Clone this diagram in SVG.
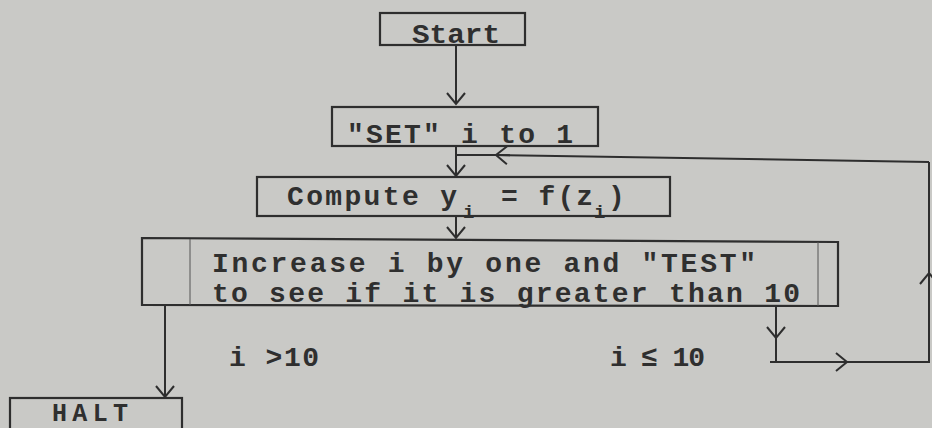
<svg xmlns="http://www.w3.org/2000/svg" width="932" height="428" viewBox="0 0 932 428">
<style>
.box{fill:none;stroke:#2e2e2e;stroke-width:2.2}
.thin{fill:none;stroke:#555;stroke-width:1}
.ln{fill:none;stroke:#2e2e2e;stroke-width:2}
.t{font-family:"Liberation Mono","DejaVu Sans Mono",monospace;font-weight:bold;font-size:28px;fill:#2f2f2f}
.s{font-family:"Liberation Mono","DejaVu Sans Mono",monospace;font-weight:bold;font-size:19px;fill:#2f2f2f}
</style>
<defs>
<marker id="chev" markerUnits="userSpaceOnUse" markerWidth="30" markerHeight="30" refX="15" refY="15" orient="auto" viewBox="0 0 30 30">
<path d="M4,6 L15,15 L4,24" fill="none" stroke="#2e2e2e" stroke-width="2"/>
</marker>
</defs>
<rect x="0" y="0" width="932" height="428" fill="#c9c9c6"/>
<g id="connectors">
<path class="ln" d="M456,45 L456,104" marker-end="url(#chev)"/>
<path class="ln" d="M456,147 L456,176" marker-end="url(#chev)"/>
<path class="ln" d="M929,162 L497,155"/>
<path class="ln" d="M510,155.2 L496,155" marker-end="url(#chev)"/>
<path class="ln" d="M496,155 L456,155"/>
<path class="ln" d="M456,217 L456,238" marker-end="url(#chev)"/>
<path class="ln" d="M165,306 L165,397" marker-end="url(#chev)"/>
<path class="ln" d="M776,306 L776,338" marker-end="url(#chev)"/>
<path class="ln" d="M776,338 L776,362"/>
<path class="ln" d="M770,362 L847,362" marker-end="url(#chev)"/>
<path class="ln" d="M847,362 L929,362 L929,274"/>
<path class="ln" d="M929,290 L929,273" marker-end="url(#chev)"/>
<path class="ln" d="M929,273 L929,162"/>
</g>
<g id="start">
<rect class="box" x="380" y="13" width="145" height="32"/>
<text class="t" x="412" y="43" textLength="88" lengthAdjust="spacingAndGlyphs">Start</text>
</g>
<g id="set">
<rect class="box" x="332" y="107" width="266" height="39"/>
<text class="t" x="347" y="143" textLength="226" lengthAdjust="spacing">"SET" i to 1</text>
</g>
<g id="compute">
<rect class="box" x="257" y="177" width="413" height="39"/>
<text class="t" x="287" y="205" textLength="170" lengthAdjust="spacing">Compute y</text>
<text class="s" x="463" y="218">i</text>
<text class="t" x="501" y="205" textLength="92" lengthAdjust="spacing">= f(z</text>
<text class="s" x="594" y="218">i</text>
<text class="t" x="608" y="205">)</text>
</g>
<g id="test">
<path class="box" d="M142,238 L838,242 L838,306 L142,305 Z"/>
<line class="thin" x1="190" y1="239" x2="190" y2="305"/>
<line class="thin" x1="818" y1="242" x2="818" y2="306"/>
<text class="t" x="212" y="272" textLength="544" lengthAdjust="spacing">Increase i by one and "TEST"</text>
<text class="t" x="212" y="302" textLength="588" lengthAdjust="spacing">to see if it is greater than 10</text>
</g>
<g id="labels">
<text class="t" x="229" y="366" textLength="90" lengthAdjust="spacing">i &gt;10</text>
<text class="t" x="610" y="366" textLength="95" lengthAdjust="spacing">i ≤ 10</text>
</g>
<g id="halt">
<rect class="box" x="10" y="398" width="172" height="50"/>
<text class="t" x="52" y="421" font-size="25" style="font-size:25px" textLength="76" lengthAdjust="spacing">HALT</text>
</g>
</svg>
